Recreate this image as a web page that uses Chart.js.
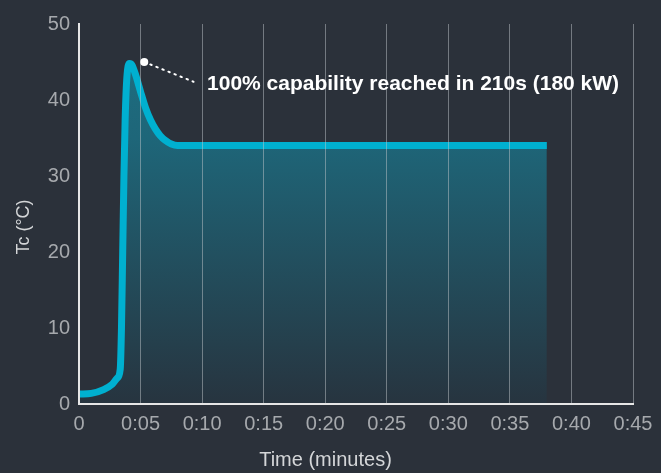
<!DOCTYPE html>
<html><head><meta charset="utf-8">
<script src="https://cdn.jsdelivr.net/npm/chart.js@4.4.0/dist/chart.umd.min.js"></script>
<style>html,body{margin:0;padding:0;background:#2b313a;}#wrap{width:661px;height:473px;}</style>
</head><body><div id="wrap"><canvas id="c" width="661" height="473"></canvas></div>
<script>
// ---- data ----
const timeMinutes = [0, 1, 2, 2.7, 3.1, 3.35, 3.45, 3.55, 3.65, 3.75, 3.88, 4.1, 4.3, 4.6, 5.0, 5.4, 5.8, 6.2, 6.6, 7.0, 7.5, 8.0, 38];
const tcValues    = [1.3, 1.4, 1.9, 2.6, 3.4, 4.6, 10, 20, 30, 37.5, 42.8, 44.8, 44.6, 43.3, 41.1, 39.0, 37.4, 36.2, 35.3, 34.7, 34.2, 34, 34];
const xTickValues = [0, 5, 10, 15, 20, 25, 30, 35, 40, 45];
const xTickLabels = ['0', '0:05', '0:10', '0:15', '0:20', '0:25', '0:30', '0:35', '0:40', '0:45'];
const yTickValues = [0, 10, 20, 30, 40, 50];
const annotationPoint = [5.3, 45];
const annotationLineEnd = [9.3, 42.4];
const annotationTextAt = [10.4, 42.1];
const annotationText = '100% capability reached in 210s (180 kW)';
const xTitle = 'Time (minutes)';
const yTitle = 'Tc (°C)';

const points = timeMinutes.map((t, i) => ({x: t, y: tcValues[i]}));

const overlay = {
  id: 'overlay',
  afterDraw(chart) {
    const {ctx, scales: {x, y}, chartArea} = chart;
    ctx.save();
    // dotted leader line
    ctx.strokeStyle = '#ffffff';
    ctx.lineWidth = 2;
    ctx.setLineDash([1.5, 5]);
    ctx.lineCap = 'round';
    ctx.beginPath();
    ctx.moveTo(x.getPixelForValue(annotationPoint[0]), y.getPixelForValue(annotationPoint[1]));
    ctx.lineTo(x.getPixelForValue(annotationLineEnd[0]), y.getPixelForValue(annotationLineEnd[1]));
    ctx.stroke();
    ctx.setLineDash([]);
    // dot
    ctx.fillStyle = '#ffffff';
    ctx.beginPath();
    ctx.arc(x.getPixelForValue(annotationPoint[0]), y.getPixelForValue(annotationPoint[1]), 4, 0, Math.PI * 2);
    ctx.fill();
    // text
    ctx.font = 'bold 21px "Liberation Sans", Arial, sans-serif';
    ctx.textBaseline = 'middle';
    ctx.textAlign = 'left';
    ctx.fillText(annotationText, x.getPixelForValue(annotationTextAt[0]), y.getPixelForValue(annotationTextAt[1]));
    // axis titles
    ctx.fillStyle = '#d4d6d8';
    ctx.font = '20px "Liberation Sans", Arial, sans-serif';
    ctx.textAlign = 'center';
    ctx.fillText(xTitle, chart.width / 2 - 5, 460);
    ctx.save();
    ctx.translate(24, (chartArea.top + chartArea.bottom) / 2 + 13);
    ctx.rotate(-Math.PI / 2);
    ctx.font = '18px "Liberation Sans", Arial, sans-serif';
    ctx.fillText(yTitle, 0, 0);
    ctx.restore();
    ctx.restore();
  }
};

new Chart(document.getElementById('c'), {
  type: 'line',
  data: {
    datasets: [{
      data: points,
      borderColor: '#00b0d0',
      borderWidth: 7,
      pointRadius: 0,
      cubicInterpolationMode: 'monotone',
      fill: 'origin',
      backgroundColor: (c) => {
        const ch = c.chart; const a = ch.chartArea;
        if (!a) return 'rgba(0,0,0,0)';
        const g = ch.ctx.createLinearGradient(0, a.top, 0, a.bottom);
        g.addColorStop(0, '#1d7083');
        g.addColorStop(0.3, '#1e6679');
        g.addColorStop(1, '#27343f');
        return g;
      }
    }]
  },
  options: {
    responsive: false,
    animation: false,
    layout: {padding: {top: 24, right: 28, left: 0, bottom: 0}},
    plugins: {legend: {display: false}, tooltip: {enabled: false}},
    scales: {
      x: {
        type: 'linear', min: 0, max: 45,
        afterBuildTicks: (s) => { s.ticks = xTickValues.map(v => ({value: v})); },
        afterFit: (s) => { s.height = 69; },
        ticks: {
          color: '#a6a9ad', font: {family: '"Liberation Sans", Arial, sans-serif', size: 20}, padding: 8,
          maxRotation: 0, autoSkip: false,
          callback: (v) => { const i = xTickValues.indexOf(v); return i >= 0 ? xTickLabels[i] : ''; }
        },
        grid: {color: 'rgba(190,195,200,0.5)', lineWidth: 1, drawTicks: false, z: 1},
        border: {color: '#e6e6e6', width: 2, z: 2}
      },
      y: {
        min: 0, max: 50,
        afterBuildTicks: (s) => { s.ticks = yTickValues.map(v => ({value: v})); },
        afterFit: (s) => { s.width = 79; },
        ticks: {color: '#a6a9ad', font: {family: '"Liberation Sans", Arial, sans-serif', size: 20}, padding: 9},
        grid: {display: false, drawTicks: false},
        border: {color: '#e6e6e6', width: 2, z: 2}
      }
    }
  },
  plugins: [overlay]
});
</script></body></html>
